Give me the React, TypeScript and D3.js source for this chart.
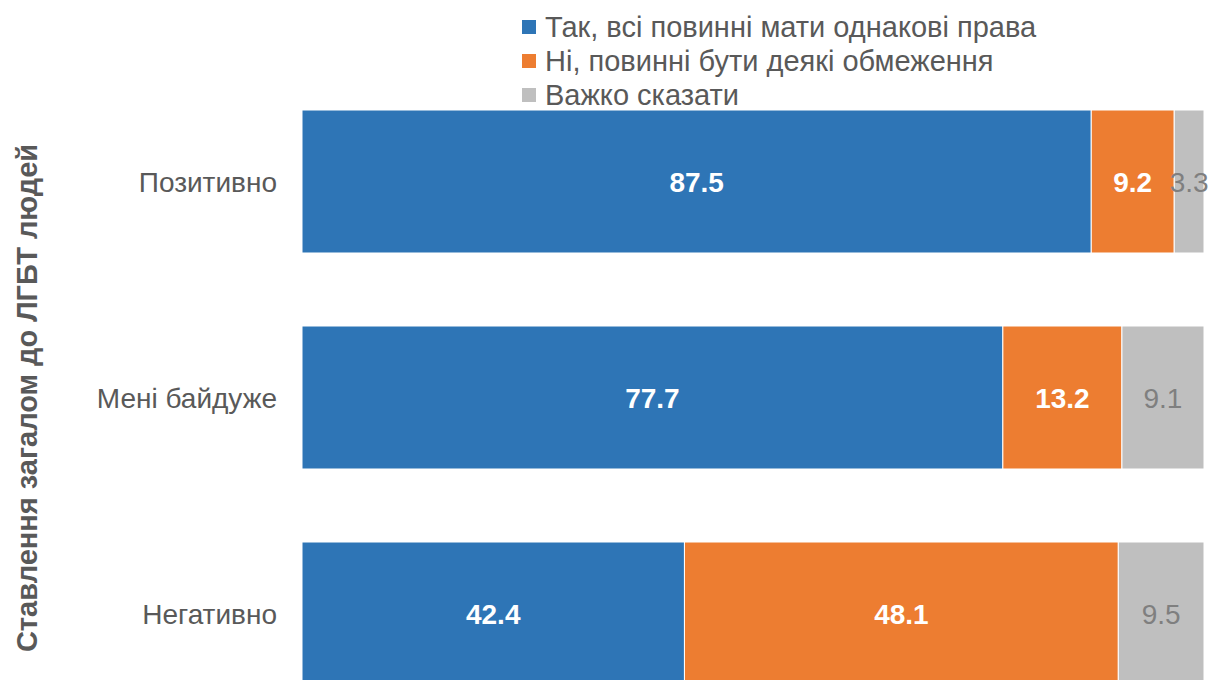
import React, { useRef, useEffect } from 'react';
import * as d3 from 'd3';

const categories = ['Позитивно', 'Мені байдуже', 'Негативно'];
const seriesNames = [
  'Так, всі повинні мати однакові права',
  'Ні, повинні бути деякі обмеження',
  'Важко сказати',
];
const yesValues = [87.5, 77.7, 42.4];
const limitValues = [9.2, 13.2, 48.1];
const hardValues = [3.3, 9.1, 9.5];
const colors = ['#2e75b6', '#ed7d31', '#bfbfbf'];
const labelColors = ['#ffffff', '#ffffff', '#7f7f7f'];
const axisTitle = 'Ставлення загалом до ЛГБТ людей';

const W = 1213;
const H = 680;
const FONT = '"Liberation Sans", Arial, sans-serif';

const App = () => {
  const svgRef = useRef<SVGSVGElement>(null);

  useEffect(() => {
    document.body.style.margin = '0';
    const svg = d3.select(svgRef.current).attr('width', W).attr('height', H);
    svg.selectAll('*').remove();

    const rows = categories.map((c, i) => ({
      cat: c,
      s0: yesValues[i],
      s1: limitValues[i],
      s2: hardValues[i],
    }));
    const stack = d3.stack<any>().keys(['s0', 's1', 's2'])(rows);

    const x = d3.scaleLinear().domain([0, 100]).range([302, 1204]);
    const y = d3.scaleBand()
      .domain(categories)
      .range([73.5, 721.5])
      .paddingInner(0.338)
      .paddingOuter(0.169);

    const g = svg.append('g').style('font-family', FONT);

    stack.forEach((layer, li) => {
      g.append('g').selectAll('rect')
        .data(layer)
        .join('rect')
        .attr('x', d => x(d[0]))
        .attr('y', d => y(d.data.cat)!)
        .attr('width', d => x(d[1]) - x(d[0]))
        .attr('height', y.bandwidth())
        .attr('fill', colors[li])
        .attr('stroke', '#ffffff')
        .attr('stroke-width', 1);
    });

    // value labels
    stack.forEach((layer, li) => {
      g.append('g').selectAll('text')
        .data(layer)
        .join('text')
        .attr('x', d => (x(d[0]) + x(d[1])) / 2)
        .attr('y', d => y(d.data.cat)! + y.bandwidth() / 2)
        .attr('dy', '0.36em')
        .attr('text-anchor', 'middle')
        .attr('fill', labelColors[li])
        .attr('font-size', 28)
        .attr('font-weight', li < 2 ? 'bold' : 'normal')
        .text(d => (d[1] - d[0]).toFixed(1));
    });

    // category labels
    g.append('g').selectAll('text')
      .data(categories)
      .join('text')
      .attr('x', 277)
      .attr('y', d => y(d)! + y.bandwidth() / 2)
      .attr('dy', '0.36em')
      .attr('text-anchor', 'end')
      .attr('fill', '#595959')
      .attr('font-size', 28)
      .text(d => d);

    // axis title
    g.append('text')
      .attr('transform', 'translate(37,398) rotate(-90)')
      .attr('text-anchor', 'middle')
      .attr('fill', '#595959')
      .attr('font-size', 29)
      .attr('font-weight', 'bold')
      .text(axisTitle);

    // legend
    const legend = g.append('g').selectAll('g')
      .data(seriesNames)
      .join('g')
      .attr('transform', (d, i) => `translate(522,${27 + i * 34})`);
    legend.append('rect')
      .attr('x', 0)
      .attr('y', -7)
      .attr('width', 14)
      .attr('height', 14)
      .attr('fill', (d, i) => colors[i]);
    legend.append('text')
      .attr('x', 23)
      .attr('dy', '0.36em')
      .attr('fill', '#595959')
      .attr('font-size', 29)
      .text(d => d);
  }, []);

  return <svg ref={svgRef}></svg>;
};

export default App;
